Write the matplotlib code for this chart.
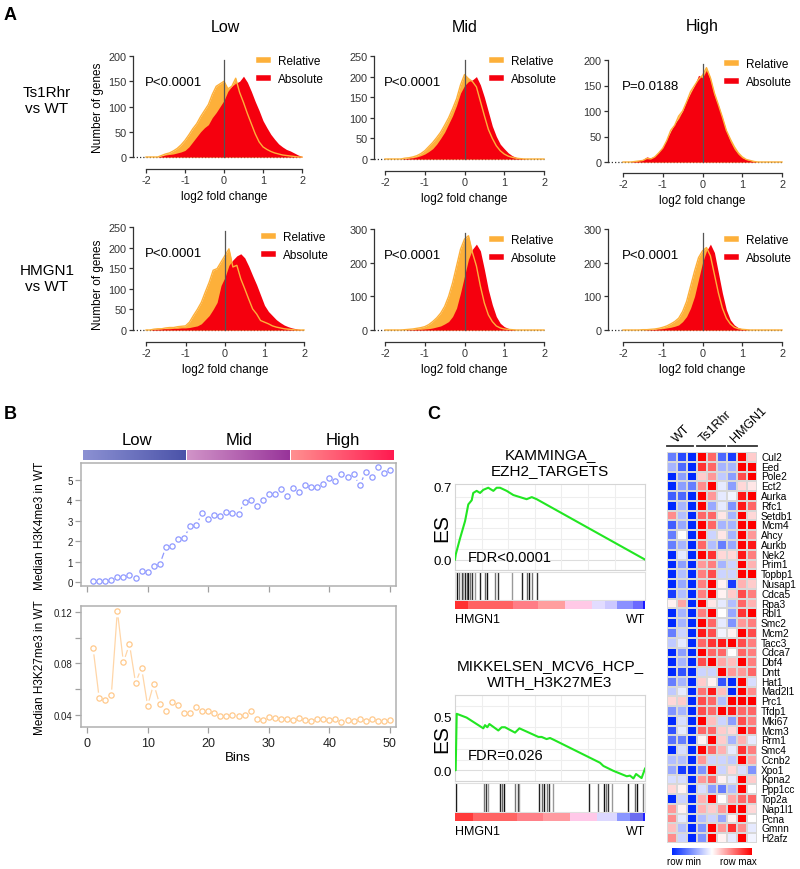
import numpy as np
import matplotlib
matplotlib.use('Agg')
import matplotlib.pyplot as plt
from matplotlib.colors import LinearSegmentedColormap
from matplotlib.lines import Line2D

plt.rcParams['font.family'] = ['Liberation Sans', 'DejaVu Sans']
plt.rcParams['axes.unicode_minus'] = False

# ---------------- data ----------------
# panel A: gene counts per log2 fold change bin
LFC = [-2.0, -1.9, -1.8, -1.7, -1.6, -1.5, -1.4, -1.3, -1.2, -1.1,
       -1.0, -0.9, -0.8, -0.7, -0.6, -0.5, -0.4, -0.3, -0.2, -0.1,
       0.0, 0.1, 0.2, 0.3, 0.4, 0.5, 0.6, 0.7, 0.8, 0.9,
       1.0, 1.1, 1.2, 1.3, 1.4, 1.5, 1.6, 1.7, 1.8, 1.9, 2.0]

T_LOW_REL = [0, 0, 0, 0, 3, 6, 8, 12, 17, 24,
             33, 44, 56, 66, 80, 92, 104, 124, 140, 145,
             150, 135, 140, 156, 128, 108, 86, 66, 46, 30,
             20, 15, 11, 8, 6, 4, 3, 2, 1, 0, 0]
T_LOW_ABS = [0, 0, 0, 0, 2, 4, 5, 6, 8, 10,
             13, 20, 30, 40, 50, 58, 64, 78, 88, 100,
             112, 130, 140, 146, 150, 160, 148, 130, 110, 92,
             72, 58, 45, 35, 26, 20, 15, 12, 8, 4, 1]
T_MID_REL = [0, 0, 0, 0, 0, 2, 3, 5, 8, 13,
             20, 30, 40, 52, 65, 82, 100, 122, 146, 180,
             205, 195, 188, 175, 140, 105, 72, 50, 32, 20,
             12, 7, 4, 2, 1, 0, 0, 0, 0, 0, 0]
T_MID_ABS = [0, 0, 0, 0, 0, 1, 2, 3, 5, 8,
             12, 18, 25, 36, 50, 65, 85, 105, 130, 160,
             178, 188, 192, 200, 180, 150, 115, 80, 55, 36,
             25, 15, 8, 4, 2, 1, 0, 0, 0, 0, 0]
T_HIGH_REL = [0, 0, 0, 1, 2, 3, 7, 6, 10, 18,
              27, 42, 62, 72, 90, 100, 118, 138, 150, 162,
              170, 185, 165, 135, 112, 88, 62, 45, 30, 18,
              10, 5, 3, 1, 0, 0, 0, 0, 0, 0, 0]
T_HIGH_ABS = [0, 0, 0, 2, 3, 5, 10, 8, 12, 20,
              30, 45, 60, 75, 85, 100, 120, 135, 150, 170,
              165, 180, 160, 130, 110, 85, 60, 40, 25, 15,
              8, 5, 3, 1, 0, 0, 0, 0, 0, 0, 0]
H_LOW_REL = [0, 0, 2, 3, 3, 5, 6, 6, 8, 9,
             10, 19, 35, 50, 67, 92, 116, 145, 149, 165,
             181, 197, 153, 157, 124, 100, 75, 51, 39, 23,
             19, 15, 10, 7, 5, 3, 2, 1, 0, 0, 0]
H_LOW_ABS = [0, 0, 2, 2, 3, 3, 3, 4, 4, 5,
             5, 6, 8, 10, 15, 25, 35, 50, 67, 108,
             128, 157, 170, 180, 185, 175, 155, 132, 110, 85,
             60, 45, 35, 25, 18, 12, 8, 5, 3, 1, 0]
H_MID_REL = [0, 0, 0, 0, 0, 1, 2, 3, 5, 7,
             10, 16, 25, 36, 50, 70, 100, 140, 190, 240,
             270, 280, 230, 190, 130, 80, 45, 25, 12, 6,
             3, 2, 1, 0, 0, 0, 0, 0, 0, 0, 0]
H_MID_ABS = [0, 0, 0, 0, 0, 0, 1, 1, 2, 2,
             3, 4, 6, 9, 12, 18, 25, 40, 65, 110,
             160, 210, 240, 255, 235, 180, 120, 75, 40, 20,
             10, 5, 2, 0, 0, 0, 0, 0, 0, 0, 0]
H_HIGH_REL = [0, 0, 0, 0, 0, 1, 1, 2, 3, 5,
              8, 12, 18, 25, 35, 55, 85, 130, 175, 215,
              235, 245, 220, 165, 110, 65, 35, 18, 8, 4,
              2, 1, 0, 0, 0, 0, 0, 0, 0, 0, 0]
H_HIGH_ABS = [0, 0, 0, 0, 0, 0, 1, 1, 2, 3,
              4, 6, 8, 11, 15, 25, 40, 65, 100, 150,
              200, 235, 255, 230, 170, 110, 60, 30, 15, 7,
              3, 1, 0, 0, 0, 0, 0, 0, 0, 0, 0]
P_VALUES = [['P<0.0001', 'P<0.0001', 'P=0.0188'],
            ['P<0.0001', 'P<0.0001', 'P<0.0001']]
GROUPS = ['Low', 'Mid', 'High']
COMPARISONS = ['Ts1Rhr\nvs WT', 'HMGN1\nvs WT']

# panel B: median marks per expression bin
BINS = list(range(1, 51))
H3K4ME3 = [0.05, 0.05, 0.05, 0.1, 0.26, 0.23, 0.35, 0.21, 0.54, 0.51,
           0.76, 0.86, 1.69, 1.76, 2.12, 2.14, 2.73, 2.78, 3.36, 3.09,
           3.26, 3.22, 3.45, 3.40, 3.32, 3.93, 4.00, 3.73, 4.01, 4.33,
           4.33, 4.57, 4.23, 4.60, 4.41, 4.75, 4.65, 4.65, 4.82, 5.10,
           4.93, 5.28, 5.15, 5.28, 4.74, 5.38, 5.13, 5.62, 5.33, 5.51]
H3K27ME3 = [0.0917, 0.0530, 0.0512, 0.0550, 0.1210, 0.0808, 0.0950, 0.0650, 0.0764, 0.0470,
            0.0640, 0.0480, 0.0426, 0.0496, 0.0473, 0.0416, 0.0416, 0.0460, 0.0426, 0.0426,
            0.0413, 0.0392, 0.0390, 0.0400, 0.0392, 0.0400, 0.0431, 0.0369, 0.0356, 0.0379,
            0.0374, 0.0366, 0.0369, 0.0361, 0.0371, 0.0358, 0.0351, 0.0364, 0.0364, 0.0358,
            0.0366, 0.0343, 0.0361, 0.0348, 0.0364, 0.0353, 0.0364, 0.0353, 0.0351, 0.0358]

# panel C: GSEA running enrichment scores (rank fraction, ES) and hit positions
ES1_X = [0, 0.004, 0.026, 0.053, 0.07, 0.088, 0.096, 0.114, 0.132, 0.149, 0.175,
         0.202, 0.219, 0.237, 0.272, 0.307, 0.342, 0.377, 0.404, 0.430, 1.0]
ES1_Y = [0, 0.05, 0.2, 0.37, 0.53, 0.57, 0.64, 0.66, 0.64, 0.67, 0.69,
         0.66, 0.69, 0.69, 0.66, 0.62, 0.6, 0.58, 0.6, 0.58, 0.0]
HITS1 = [0.012, 0.023, 0.035, 0.044, 0.054, 0.061, 0.070, 0.079, 0.088, 0.105, 0.132,
         0.158, 0.170, 0.211, 0.228, 0.298, 0.351, 0.377, 0.391, 0.404, 0.430]
ES2_X = [0, 0.0035, 0.009, 0.061, 0.149, 0.158, 0.170, 0.181, 0.228, 0.246, 0.263,
         0.316, 0.339, 0.439, 0.456, 0.482, 0.5, 0.518, 0.763, 0.781, 0.833,
         0.904, 0.921, 0.939, 0.953, 0.982, 1.0]
ES2_Y = [0, 0.0, 0.525, 0.49, 0.39, 0.42, 0.40, 0.43, 0.37, 0.40, 0.40,
         0.35, 0.39, 0.31, 0.31, 0.29, 0.30, 0.285, 0.07, 0.04, -0.005,
         -0.056, -0.05, -0.076, -0.035, -0.073, 0.015]
HITS2 = [0.0035, 0.153, 0.163, 0.172, 0.237, 0.246, 0.258, 0.316, 0.333, 0.339,
         0.444, 0.456, 0.468, 0.486, 0.495, 0.514, 0.707, 0.754, 0.784, 0.795,
         0.807, 0.825, 0.909, 0.947, 0.956, 0.991]

# panel C heatmap (row-scaled, -1 = row min, 1 = row max)
GENES = ['Cul2', 'Eed', 'Pole2', 'Ect2', 'Aurka', 'Rfc1', 'Setdb1', 'Mcm4', 'Ahcy', 'Aurkb',
         'Nek2', 'Prim1', 'Topbp1', 'Nusap1', 'Cdca5', 'Rpa3', 'Rbl1', 'Smc2', 'Mcm2', 'Tacc3',
         'Cdca7', 'Dbf4', 'Dntt', 'Hat1', 'Mad2l1', 'Prc1', 'Tfdp1', 'Mki67', 'Mcm3', 'Rrm1',
         'Smc4', 'Ccnb2', 'Xpo1', 'Kpna2', 'Ppp1cc', 'Top2a', 'Nap1l1', 'Pcna', 'Gmnn', 'H2afz']
SAMPLE_GROUPS = ['WT', 'Ts1Rhr', 'HMGN1']
HEAT = [
    [-0.6, -0.85, -1, 1, 0.6, -0.7, -0.9, 1, 0.2],
    [-0.35, -0.7, -1, 0.8, 0.6, -0.35, -0.35, 1, 1],
    [-1, -0.45, -1, 0.2, 0.4, -0.25, -0.45, 0.7, 1],
    [-1, -0.45, -0.6, 0.45, 1, -0.1, -0.45, 0.15, 0.1],
    [-0.75, -0.7, -1, 1, 0.4, -0.1, -0.05, 0.9, 1],
    [-1, -0.35, -1, 1, -0.4, -0.1, -0.5, 0.9, 0.6],
    [0.45, -0.3, -1, 0.6, 0.6, 0.1, -0.35, 1, 0.15],
    [-0.75, -0.4, -1, 1, 0.6, -0.35, -0.35, 1, 1],
    [-0.6, 0, -1, 1, -0.2, 0.1, -0.35, 1, 0.4],
    [-0.6, -0.35, -1, 0.6, -0.3, -0.6, -0.4, 1, 0.9],
    [-1, -0.1, -1, 1, 0.8, 0.15, 0.15, 0.9, 0.5],
    [-1, -0.45, -1, 0.4, 0.5, -0.35, -0.2, 1, 0.3],
    [-1, -0.3, -1, 0.5, 0.7, -0.2, -0.2, 1, 1],
    [-1, -0.4, -1, 0.5, 1, 0.05, -0.9, 0.3, 0.2],
    [-0.9, -0.3, -1, 0.5, 1, 0.05, 0.2, 0.7, 0.5],
    [0.05, 0.35, -1, 1, 0.1, -0.1, -0.3, 0.6, 0.3],
    [-1, -0.35, -1, 0.5, 1, 0, -0.4, 0.8, 1],
    [-1, -0.35, -1, 1, 0.6, -0.1, -0.5, 0.4, 0.5],
    [-0.6, -0.2, -1, 0.9, 0.7, -0.05, 0.05, 1, 0.7],
    [-0.25, -0.1, -1, 0.6, 0.8, 0.9, 1, 0.7, 0.5],
    [-1, -0.45, -1, 1, 0.6, 0.6, 0, 0.6, 0.5],
    [-1, -0.35, -1, 0.7, 1, 0.35, 0.25, 1, 0.5],
    [-1, -0.8, -1, -0.2, -0.2, 1, 0.4, 0.4, 0.6],
    [-0.6, -0.35, -1, 0.2, 0.05, -0.8, -1, 1, -0.15],
    [-0.25, -0.1, -1, 0.55, 0.9, 0.25, -1, 1, 0.45],
    [0.15, 0.2, -1, 0.7, 0.6, -0.3, 1, 1, 1],
    [-0.5, -0.35, -1, 0.7, 0.6, 1, 0.9, 0.6, 0.6],
    [-1, -0.15, -1, 1, 0.25, -0.2, -0.45, 0.7, 0.5],
    [-0.8, -0.1, -1, 0.6, 0.6, 0.2, 0.15, 1, 0.7],
    [-0.65, -0.6, -1, 0.05, 1, 0.2, -0.35, 0.3, -0.1],
    [-1, -0.15, -1, 1, 0.6, 0.3, -0.1, 0.8, 0.5],
    [-0.3, -0.3, -1, 0.4, -0.2, -0.2, -0.25, 1, 0.35],
    [-0.4, -0.9, -1, -0.5, 1, -0.2, 0.15, -0.15, -0.5],
    [-0.15, -0.15, -1, 0.4, 0.6, 0.05, -0.1, 1, 0.2],
    [0.15, 0.05, -1, -0.15, -0.45, -0.6, -0.3, 1, 0],
    [-1, -0.2, -1, 0.3, 1, 0, 0.35, 0.6, 0.6],
    [0.4, 0.05, -1, 0.3, 0.2, 0.4, 1, 1, 0.15],
    [0.45, -0.1, -1, -0.3, -0.2, -0.4, 0.05, 1, 0],
    [0.25, -0.3, -1, -0.5, 1, 0.4, 0.8, 0.45, -0.1],
    [0.45, -0.2, -1, -0.5, 1, 0.05, -0.1, 1, -0.05],
]

# ---------------- styling ----------------
ORANGE = '#fdb03a'
RED = '#f5000e'
W, H = 800, 870

fig = plt.figure(figsize=(8, 8.7), dpi=100)


def rect(l, t, r, b):
    return [l / W, 1 - b / H, (r - l) / W, (b - t) / H]


def ftext(x, y, s, **kw):
    fig.text(x / W, 1 - y / H, s, **kw)


# ---------------- panel A ----------------
def hist_panel(rel, absol, yax, xm2, x2, y0, ytop, ytop_val, xax, ystep, ptext, legx, legy):
    upp = 4.0 / (x2 - xm2)
    vpp = ytop_val / (y0 - ytop)
    ax = fig.add_axes(rect(yax, ytop - 4, x2 + 6, xax))
    ax.set_xlim(-2 - (xm2 - yax) * upp, 2 + 6 * upp)
    ax.set_ylim(-(xax - y0) * vpp, ytop_val + 4 * vpp)
    ax.plot([ax.get_xlim()[0], 2], [0, 0], ls=(0, (1, 1.6)), color='#333333', lw=0.9, zorder=0)
    ax.fill_between(LFC, rel, color=ORANGE, lw=0, zorder=1)
    ax.fill_between(LFC, absol, color=RED, lw=0, zorder=2)
    ax.plot(LFC, rel, color=ORANGE, lw=1, zorder=3)
    ax.plot([0, 0], [0, ytop_val * 0.96], color='#555555', lw=0.9, zorder=4)
    for s in ['top', 'right']:
        ax.spines[s].set_visible(False)
    for s in ['left', 'bottom']:
        ax.spines[s].set_color('#333333')
        ax.spines[s].set_linewidth(0.9)
    ax.spines['left'].set_bounds(0, ytop_val)
    ax.spines['bottom'].set_bounds(-2, 2)
    ax.set_yticks(np.arange(0, ytop_val + 1, ystep))
    ax.set_xticks([-2, -1, 0, 1, 2])
    ax.tick_params(length=3, width=0.9, color='#333333', labelsize=7.8,
                   labelcolor='#333333', pad=1.5)
    ax.patch.set_visible(False)
    ftext(xm2 - 1, ytop + 26, ptext, fontsize=9.5, va='center', ha='left')
    ax.legend(handles=[Line2D([], [], color=ORANGE, lw=4), Line2D([], [], color=RED, lw=4)],
              labels=['Relative', 'Absolute'], loc='upper left',
              bbox_to_anchor=(legx / W, 1 - legy / H), bbox_transform=fig.transFigure,
              frameon=False, fontsize=8.5, handlelength=0.8, handletextpad=0.8,
              labelspacing=0.55, borderaxespad=0, borderpad=0)
    ftext((xm2 + x2) / 2, xax + 27, 'log2 fold change', fontsize=8.5, ha='center', va='center')
    return ax


REL = [[T_LOW_REL, T_MID_REL, T_HIGH_REL], [H_LOW_REL, H_MID_REL, H_HIGH_REL]]
ABS = [[T_LOW_ABS, T_MID_ABS, T_HIGH_ABS], [H_LOW_ABS, H_MID_ABS, H_HIGH_ABS]]
# pixel layout: yaxis x, x(-2), x(2), y(0), y(top), top value, xaxis y, step, legend x, legend top
LAYOUT = [
    [(133, 146, 302, 158, 57, 200, 170, 50, 259, 56), (374, 385, 544, 160, 57, 250, 172, 50, 492, 56),
     (608, 623, 782, 163, 61, 200, 174, 50, 727, 59)],
    [(133, 146, 304, 331, 228, 250, 343, 50, 264, 232), (374, 385, 544, 331, 230, 300, 343, 100, 492, 235),
     (608, 623, 782, 331, 230, 300, 343, 100, 727, 235)],
]
for r in range(2):
    for c in range(3):
        yax, xm2, x2, y0, ytop, tv, xax, st, legx, legy = LAYOUT[r][c]
        hist_panel(REL[r][c], ABS[r][c], yax, xm2, x2, y0, ytop, tv, xax, st, P_VALUES[r][c], legx, legy)

for x, g in zip([225, 465, 702], GROUPS):
    ftext(x, 27, g, fontsize=11.5, ha='center', va='center')
for y, lab in zip([101, 279], COMPARISONS):
    ftext(47, y, lab, fontsize=11, ha='center', va='center', linespacing=1.15)
ftext(98, 108, 'Number of genes', fontsize=8.5, rotation=90, ha='center', va='center')
ftext(98, 285, 'Number of genes', fontsize=8.5, rotation=90, ha='center', va='center')

# ---------------- panel B ----------------
BLUE_PT = '#8f99ff'
ORANGE_PT = '#ffc98c'


def b_line(ax, y, color, lcolor):
    ax.plot(BINS, y, color=lcolor, lw=0.9, zorder=1)
    ax.plot(BINS, y, ls='none', marker='o', ms=8.5, mfc='white', mec='none', zorder=2)
    ax.plot(BINS, y, ls='none', marker='o', ms=3.8, mfc='none', mec=color, mew=0.9, zorder=3)


def b_style(ax):
    for s in ax.spines.values():
        s.set_color('#b0b0b0')
        s.set_linewidth(1.1)
    ax.tick_params(length=4, width=0.9, color='#a0a0a0', labelsize=7, pad=2, labelcolor='#222222')


axb1 = fig.add_axes(rect(81, 464, 396, 587))
b_line(axb1, H3K4ME3, BLUE_PT, BLUE_PT)
axb1.set_xlim(-1, 51)
axb1.set_ylim(-0.2, 5.83)
axb1.set_yticks([0, 1, 2, 3, 4, 5])
axb1.set_xticks([0, 10, 20, 30, 40, 50])
axb1.set_xticklabels([])
b_style(axb1)

axb2 = fig.add_axes(rect(81, 607, 396, 728))
b_line(axb2, H3K27ME3, ORANGE_PT, '#ffd6a8')
axb2.set_xlim(-1, 51)
axb2.set_ylim(0.0304, 0.1247)
axb2.set_yticks([0.04, 0.06, 0.08, 0.10, 0.12])
axb2.set_yticklabels(['0.04', '', '0.08', '', '0.12'])
axb2.set_xticks([0, 10, 20, 30, 40, 50])
b_style(axb2)
axb2.tick_params(axis='x', labelsize=9, pad=3)
ftext(238, 758, 'Bins', fontsize=9.5, ha='center', va='center')
ftext(40, 526, 'Median H3K4me3 in WT', fontsize=8.5, rotation=90, ha='center', va='center')
ftext(40, 668, 'Median H3K27me3 in WT', fontsize=8.5, rotation=90, ha='center', va='center')

BIN_GROUP_COLORS = [('#8c91d3', '#4b53a9'), ('#d194c8', '#98349a'), ('#ff9090', '#ff1a50')]
axbar = fig.add_axes(rect(82, 451, 394, 461))
grad = np.linspace(0, 1, 200).reshape(1, -1)
for i, (c0, c1) in enumerate(BIN_GROUP_COLORS):
    cm = LinearSegmentedColormap.from_list('g%d' % i, [c0, c1])
    axbar.imshow(grad, cmap=cm, extent=[i + 0.006, i + 0.994, 0, 1], aspect='auto')
axbar.set_xlim(0, 3)
axbar.set_ylim(0, 1)
axbar.axis('off')
for x, g in zip([137, 239, 343], GROUPS):
    ftext(x, 441, g, fontsize=12, ha='center', va='center')

# ---------------- panel C: GSEA ----------------
GREEN = '#22e622'
RANK_BAR1 = [(0, '#ff3030'), (0.07, '#ff6262'), (0.307, '#ff7d86'), (0.439, '#ff9e9e'),
             (0.579, '#ffc9e6'), (0.719, '#e2dcff'), (0.789, '#ccc8ff'), (0.851, '#8a90ff'),
             (0.939, '#6a6aff'), (0.988, '#1a1aff'), (1.0, None)]
RANK_BAR2 = [(0, '#ff3a3a'), (0.096, '#ff6464'), (0.325, '#ff8088'), (0.465, '#ff9aa0'),
             (0.605, '#ffc8e8'), (0.746, '#dcd8ff'), (0.851, '#8a96ff'), (0.921, '#6c6cf0'),
             (0.991, '#2020ff'), (1.0, None)]
HIT_SHADES = ['#111111', '#777777', '#333333', '#999999', '#222222', '#666666']


def gsea(es_x, es_y, hits, bar, top, bottom, ylim, yticks, title, title_y, fdr, fdr_y, lab_y):
    ax = fig.add_axes(rect(455, top, 645, bottom))
    ax.plot(es_x, es_y, color=GREEN, lw=1.5, zorder=3)
    ax.set_xlim(0, 1)
    ax.set_ylim(*ylim)
    ax.set_xticks([0.14, 0.28, 0.42, 0.56, 0.70, 0.84], minor=True)
    ax.set_yticks(np.arange(-0.1, 0.75, 0.1), minor=True)
    ax.grid(which='minor', color='#eeeeee', lw=0.8)
    ax.axhline(0, color='#dddddd', lw=0.8, zorder=1)
    ax.set_xticks([])
    ax.set_yticks(yticks)
    ax.set_yticklabels(['%.1f' % v for v in yticks])
    ax.tick_params(which='both', length=0, labelsize=9.5, pad=2)
    for s in ax.spines.values():
        s.set_color('#d5d5d5')
    hx = fig.add_axes(rect(455, bottom + 2, 645, lab_y - 19))
    hx.vlines(hits, 0, 1, colors=[HIT_SHADES[i % len(HIT_SHADES)] for i in range(len(hits))], lw=1.0)
    hx.set_xlim(0, 1)
    hx.set_ylim(0, 1)
    hx.set_xticks([])
    hx.set_yticks([])
    for s in hx.spines.values():
        s.set_color('#e0e0e0')
    bx = fig.add_axes(rect(455, lab_y - 18, 645, lab_y - 10))
    for (x0, c), (x1, _) in zip(bar[:-1], bar[1:]):
        bx.axvspan(x0, x1, color=c, lw=0)
    bx.set_xlim(0, 1)
    bx.axis('off')
    ftext(550, title_y, title, fontsize=11, ha='center', va='center', linespacing=1.1)
    ftext(442, (top + bottom) / 2, 'ES', fontsize=15, rotation=90, ha='center', va='center')
    ftext(468, fdr_y, fdr, fontsize=10.5, ha='left', va='center')
    ftext(455, lab_y, 'HMGN1', fontsize=9, ha='left', va='center')
    ftext(645, lab_y, 'WT', fontsize=9, ha='right', va='center')


gsea(ES1_X, ES1_Y, HITS1, RANK_BAR1, 485, 571, (-0.017, 0.726), [0.0, 0.7],
     'KAMMINGA_\nEZH2_TARGETS', 463, 'FDR<0.0001', 558, 620)
gsea(ES2_X, ES2_Y, HITS2, RANK_BAR2, 696, 782, (-0.0985, 0.553), [0.0, 0.5],
     'MIKKELSEN_MCV6_HCP_\nWITH_H3K27ME3', 674, 'FDR=0.026', 756, 832)

# ---------------- panel C: heatmap ----------------
heat_cmap = LinearSegmentedColormap.from_list('bwr2', ['#0028ff', '#ffffff', '#ff0000'])
axh = fig.add_axes(rect(667, 453, 757, 844))
axh.pcolormesh(np.array(HEAT), cmap=heat_cmap, vmin=-1, vmax=1, edgecolors='#d8d8d8', linewidth=0.3)
axh.set_ylim(len(GENES), 0)
axh.set_xlim(0, 9)
axh.axis('off')
row_h = (844 - 453) / len(GENES)
for i, g in enumerate(GENES):
    ftext(761, 453 + (i + 0.5) * row_h, g, fontsize=7.3, ha='left', va='center')

for (x0, x1), g, ax_ in zip([(667, 693), (697, 725), (728, 757)], SAMPLE_GROUPS, [679, 706, 737]):
    fig.add_artist(Line2D([x0 / W, x1 / W], [1 - 447 / H, 1 - 447 / H], color='#333333', lw=1.3))
    fig.text(ax_ / W, 1 - 445 / H, g, fontsize=9, rotation=45, rotation_mode='anchor',
             ha='left', va='bottom')

axc = fig.add_axes(rect(672, 849, 752, 856))
axc.imshow(np.linspace(-1, 1, 200).reshape(1, -1), cmap=heat_cmap, aspect='auto')
axc.axis('off')
ftext(667, 862, 'row min', fontsize=7, ha='left', va='center')
ftext(757, 862, 'row max', fontsize=7, ha='right', va='center')

# panel letters
ftext(4, 15, 'A', fontsize=13, fontweight='bold', va='center')
ftext(4, 415, 'B', fontsize=13, fontweight='bold', va='center')
ftext(427, 415, 'C', fontsize=13, fontweight='bold', va='center')

fig.savefig('out.png', dpi=100)
